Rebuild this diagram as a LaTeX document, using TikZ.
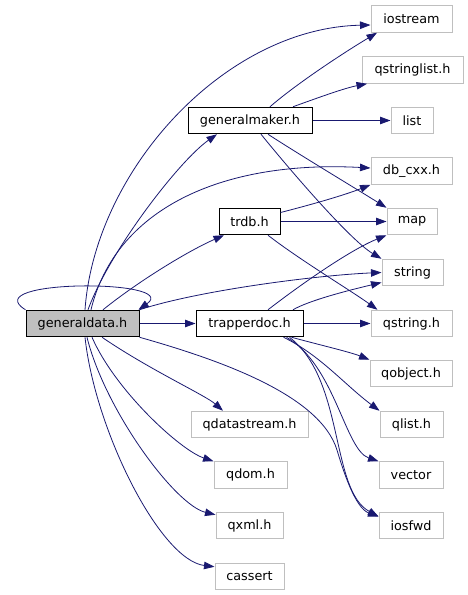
\documentclass[tikz,border=0pt]{standalone}
\usepackage{fontspec}
\setmainfont{DejaVu Sans}
\usetikzlibrary{arrows.meta}
\definecolor{edgeblue}{HTML}{191970}
\definecolor{boxgray}{HTML}{BFBFBF}
\begin{document}
\begin{tikzpicture}[x=1pt,y=-1pt,
  box/.style={draw=black, line width=1pt, minimum height=26.5pt, inner sep=0pt,
              font=\fontsize{12.8}{14}\selectfont, fill=white},
  ext/.style={box, draw=boxgray},
  cur/.style={box, fill=boxgray},
  edge/.style={draw=edgeblue, line width=0.8pt, -{Triangle[length=10.5pt,width=7.5pt]}}]
\useasboundingbox (0,0) rectangle (467,595);

% nodes
\node[cur, minimum width=113pt] (gd) at (82.5,323.5) {generaldata.h};
\node[box, minimum width=107pt] (td) at (249.5,323.5) {trapperdoc.h};
\node[box, minimum width=124pt] (gm) at (250,120.5) {generalmaker.h};
\node[box, minimum width=61pt] (trdb) at (249.5,221.5) {trdb.h};
\node[ext, minimum width=81pt] (iostream) at (411.5,19) {iostream};
\node[ext, minimum width=101pt] (qstringlist) at (412.5,70) {qstringlist.h};
\node[ext, minimum width=42pt] (list) at (412,120.5) {list};
\node[ext, minimum width=81pt] (dbcxx) at (411.5,171) {db\_cxx.h};
\node[ext, minimum width=50pt] (map) at (412,221.5) {map};
\node[ext, minimum width=61pt] (string) at (412.5,272.5) {string};
\node[ext, minimum width=81pt] (qstring) at (411.5,323.5) {qstring.h};
\node[ext, minimum width=82pt] (qobject) at (411,373.5) {qobject.h};
\node[ext, minimum width=63pt] (qlist) at (411.5,424.5) {qlist.h};
\node[ext, minimum width=64pt] (vector) at (411,475) {vector};
\node[ext, minimum width=64pt] (iosfwd) at (411,525.5) {iosfwd};
\node[ext, minimum width=117pt] (qdatastream) at (249.5,424.5) {qdatastream.h};
\node[ext, minimum width=73pt] (qdom) at (250.5,475) {qdom.h};
\node[ext, minimum width=67pt] (qxml) at (249.5,525.5) {qxml.h};
\node[ext, minimum width=69pt] (cassert) at (249.5,576.5) {cassert};

% generaldata.h
\draw[edge] (gd.north west) .. controls (-25,279) and (182,279) .. ([xshift=-1pt]gd.north east);
\draw[edge] ([xshift=2.5pt]gd.north) .. controls (95,170) and (225,28) .. ([yshift=-6pt]iostream.west);
\draw[edge] ([xshift=5.5pt]gd.north) .. controls (110,250) and (180,160) .. ([xshift=-33pt]gm.south);
\draw[edge] ([xshift=8.5pt]gd.north) .. controls (115,210) and (220,160) .. ([yshift=3pt]dbcxx.west);
\draw[edge] ([xshift=20.5pt]gd.north) .. controls (140,280) and (190,250) .. ([xshift=-25.5pt]trdb.south);
\draw[edge] (gd.north east) .. controls (200,290) and (320,275) .. (string.west);
\draw[edge] (gd.east) -- (td.west);
\draw[edge] ([xshift=19.5pt]gd.south) .. controls (150,370) and (205,395) .. ([xshift=-26.5pt]qdatastream.north);
\draw[edge] ([xshift=9.5pt]gd.south) .. controls (115,390) and (180,450) .. (qdom.north west);
\draw[edge] ([xshift=4.5pt]gd.south) .. controls (105,410) and (175,505) .. ([yshift=-3pt]qxml.north west);
\draw[edge] ([xshift=2.5pt]gd.south) .. controls (95,430) and (160,560) .. ([yshift=-4pt]cassert.north west);
\draw[edge] (gd.south east) .. controls (220,360) and (320,395) .. (337,450)
            .. controls (343,470) and (355,508) .. ([yshift=9pt]iosfwd.west);

% generalmaker.h
\draw[edge] ([xshift=20pt]gm.north) .. controls (295,85) and (340,55) .. ([xshift=-34.5pt]iostream.south);
\draw[edge] ([xshift=43pt]gm.north) .. controls (320,97) and (345,88) .. ([xshift=-45.5pt]qstringlist.south);
\draw[edge] (gm.east) -- (list.west);
\draw[edge] ([xshift=18pt]gm.south) .. controls (300,155) and (350,185) .. (map.north west);
\draw[edge] ([xshift=11pt]gm.south) .. controls (290,170) and (350,240) .. (string.north west);

% trdb.h
\draw[edge] ([yshift=9pt]trdb.east) .. controls (310,205) and (345,195) .. (dbcxx.south west);
\draw[edge] (trdb.east) -- (map.west);
\draw[edge] ([xshift=18.5pt]trdb.south) .. controls (300,260) and (350,290) .. ([xshift=7pt]qstring.north west);

% trapperdoc.h
\draw[edge] ([xshift=18.5pt]td.north) .. controls (300,285) and (350,250) .. (map.south west);
\draw[edge] ([xshift=43.5pt]td.north) .. controls (310,300) and (350,290) .. ([yshift=-10pt]string.west);
\draw[edge] (td.east) -- (qstring.west);
\draw[edge] ([xshift=42pt]td.south) .. controls (320,345) and (350,352) .. (qobject.north west);
\draw[edge] ([xshift=34pt]td.south) .. controls (320,355) and (345,385) .. (qlist.north west);
\draw[edge] ([xshift=37pt]td.south) .. controls (335,365) and (345,450) .. (vector.north west);
\draw[edge] ([xshift=40pt]td.south) .. controls (345,380) and (330,490) .. ([yshift=9pt]iosfwd.west);
\end{tikzpicture}
\end{document}
